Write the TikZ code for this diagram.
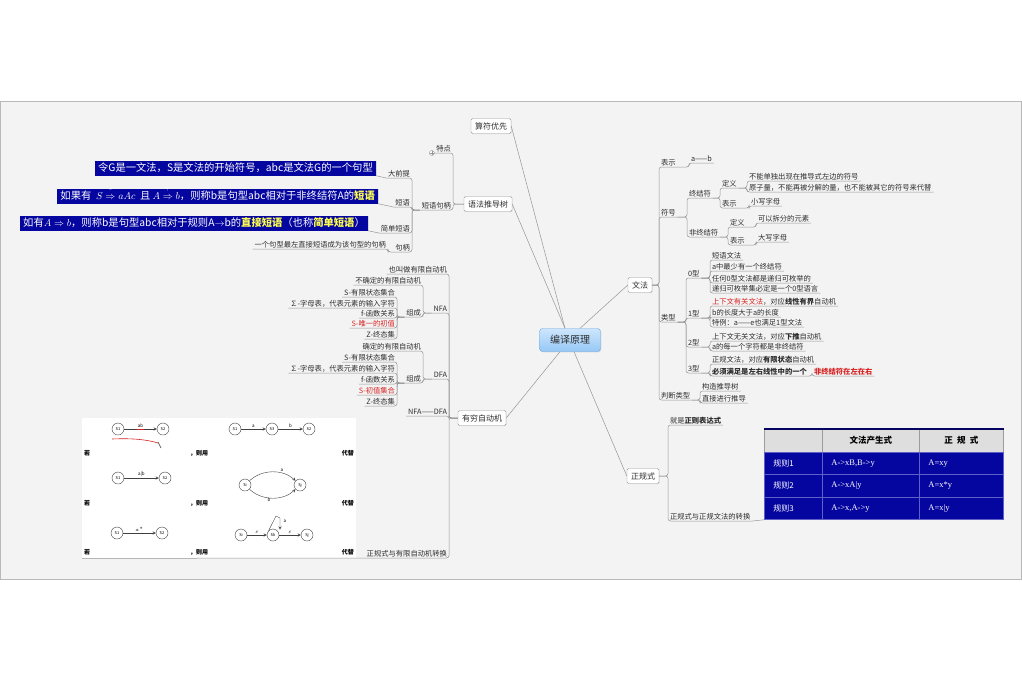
\documentclass[tikz,border=0pt]{standalone}
\usepackage{fontspec}
\setmainfont{Noto Sans CJK SC}
\newfontfamily\lserif{Liberation Serif}
\usepackage{xcolor}
\usepackage{tikz}
\usetikzlibrary{positioning,shapes,shadows,arrows,calc,matrix,backgrounds}

\definecolor{panelbg}{RGB}{243,243,243}
\definecolor{panelline}{RGB}{185,185,185}
\definecolor{linegray}{RGB}{150,150,150}
\definecolor{boxline}{RGB}{155,155,155}
\definecolor{txtdark}{RGB}{45,45,45}
\definecolor{deepblue}{RGB}{5,5,160}
\definecolor{hiyellow}{RGB}{255,255,80}
\definecolor{hired}{RGB}{215,35,35}
\definecolor{rootlight}{RGB}{205,230,252}
\definecolor{rootdark}{RGB}{150,200,246}
\definecolor{rootline}{RGB}{110,165,225}
\definecolor{headgray}{RGB}{222,222,222}
\definecolor{cellline}{RGB}{95,95,200}

\newcommand\subfont{\fontsize{7.3}{8}\selectfont}
\newcommand\hiword[1]{\textbf{\textcolor{hiyellow}{#1}}}
\newcommand\derive[1]{\stackrel{\raisebox{2.5pt}{$\scriptscriptstyle #1$}}{\Rightarrow}}

% children hanging on a bracket, left or right of it
\newcommand\lkids[4]{%
  \foreach \nm/\yy/\txt in {#4}{%
    \node[lsub] (#2\nm) at (#3,\yy) {\txt};
    \draw[conn] (#1) -| (#2\nm.south east) -- (#2\nm.south west);
  }}
\newcommand\rkids[4]{%
  \foreach \nm/\yy/\txt in {#4}{%
    \node[rsub] (#2\nm) at (#3,\yy) {\txt};
    \draw[conn] (#1) -| (#2\nm.south west) -- (#2\nm.south east);
  }}

\tikzset{
  conn/.style={draw=linegray, line width=0.5pt, rounded corners=2.5pt},
  lsub/.style={anchor=south east, outer sep=0pt, inner xsep=2pt, inner ysep=1.2pt, font=\subfont, text=txtdark},
  rsub/.style={lsub, anchor=south west},
  topic/.style={draw=boxline, fill=white, rounded corners=1.5pt, inner xsep=4pt, inner ysep=2pt,
    minimum height=15pt, font=\fontsize{8}{9}\selectfont, text=txtdark,
    drop shadow={shadow xshift=0.7pt, shadow yshift=-0.7pt, opacity=0.2}},
  root/.style={draw=rootline, rounded corners=3pt, top color=rootlight, bottom color=rootdark,
    minimum width=61pt, minimum height=23pt, font=\fontsize{10}{12}\selectfont, text=txtdark,
    drop shadow={shadow xshift=0.8pt, shadow yshift=-0.8pt, opacity=0.2}},
  bluebox/.style={fill=deepblue, text=white, inner xsep=3pt, inner ysep=2.5pt, text height=8pt,
    text depth=2pt, font=\fontsize{10.3}{12}\selectfont,
    drop shadow={shadow xshift=0.8pt, shadow yshift=-0.8pt, opacity=0.25}},
  state/.style={circle, draw=black!75, fill=white, minimum size=12pt, inner sep=0pt, font=\fontsize{4}{4}\selectfont},
  tr/.style={->, >=stealth, draw=black!75, line width=0.4pt},
  tlab/.style={font=\fontsize{4.5}{5}\selectfont, inner sep=1pt},
  imgtxt/.style={font=\bfseries\fontsize{6}{7}\selectfont, inner sep=0pt},
  tablemat/.style={matrix of nodes, nodes in empty cells, inner sep=0pt,
    column sep=-\pgflinewidth, row sep=-\pgflinewidth,
    nodes={draw=cellline, fill=deepblue, text=white, minimum height=22.5pt, inner xsep=9pt,
      align=left, font=\fontsize{8}{9}\selectfont, anchor=center},
    column 1/.style={nodes={text width=40pt}},
    column 2/.style={nodes={text width=79pt, font=\lserif\fontsize{8.5}{9}\selectfont}},
    column 3/.style={nodes={text width=66pt, font=\lserif\fontsize{8.5}{9}\selectfont}},
    row 1/.style={nodes={fill=headgray, draw=headgray!70!black, text=black, align=center,
      font=\bfseries\fontsize{8.5}{9}\selectfont}}},
}

\begin{document}
\begin{tikzpicture}[x=1pt, y=-1pt]
\useasboundingbox (0,0) rectangle (1022,681);
\fill[white] (0,0) rectangle (1022,681);
\filldraw[fill=panelbg, draw=panelline, line width=0.8pt] (0.5,101) rectangle (1021.5,579);

% centre and main topics
\node[root] (root) at (570,340) {编译原理};
\node[topic] (sfyx) at (491,126) {算符优先};
\node[topic] (yfs) at (488,204) {语法推导树};
\node[topic] (yqz) at (482,418) {有穷自动机};
\node[topic] (wf) at (640,285) {文法};
\node[topic] (zgs) at (643,476) {正规式};
\draw[conn] ([xshift=-5pt]root.north) -- (sfyx.east);
\draw[conn] ([xshift=-5pt]root.north) -- (yfs.east);
\draw[conn] ([xshift=-10pt]root.south) -- (yqz.east);
\draw[conn] ([xshift=10pt]root.north) -- (wf.west);
\draw[conn] ([xshift=4pt]root.south) -- (zgs.west);

% 语法推导树
\lkids{yfs.west}{yf}{453}{a/153/特点, b/210/短语句柄}
\node[circle, draw=linegray, fill=white, inner sep=0pt, minimum size=5pt] (yfp) at ([xshift=-2.5pt]yfa.south west) {};
\draw[linegray, line width=0.4pt] ([xshift=-1.6pt]yfp.center) -- ([xshift=1.6pt]yfp.center)
  ([yshift=-1.6pt]yfp.center) -- ([yshift=1.6pt]yfp.center);
\lkids{yfb.south west}{dy}{412}{a/178/大前提, b/207/短语, c/233/简单短语, d/252/句柄}
\lkids{dyd.south west}{jb}{388}{a/249/一个句型最左直接短语成为该句型的句柄}
\node[bluebox, anchor=east] (bq1) at (376,168) {令G是一文法，S是文法的开始符号，abc是文法G的一个句型};
\node[bluebox, anchor=east] (bq2) at (378,196) {如果有\ \ $S\derive{*}aAc$ \ 且 $A\derive{+}b$，则称b是句型abc相对于非终结符A的\hiword{短语}};
\node[bluebox, anchor=east] (bq3) at (368,223) {如有$A\Rightarrow b$，则称b是句型abc相对于规则A$\rightarrow$b的\hiword{直接短语}（也称\hiword{简单短语}）};
\draw[conn] (dya.south west) -- (bq1.south east);
\draw[conn] (dyb.south west) -- (bq2.south east);
\draw[conn] (dyc.south west) -- (bq3.south east);

% 有穷自动机
\lkids{yqz.west}{zd}{449}{a/274/也叫做有限自动机, b/313/NFA, c/379/DFA, d/416/NFA——DFA, e/558/正规式与有限自动机转换}
\lkids{zdb.south west}{nf}{423}{a/285/不确定的有限自动机, b/317/组成}
\lkids{nfb.south west}{nz}{397}{a/297/S-有限状态集合, b/308/∑-字母表，代表元素的输入字符, c/318/f-函数关系,
  d/328/{\textcolor{hired}{S-唯一的初值}}, e/339/Z-终态集}
\lkids{zdc.south west}{df}{423}{a/351/确定的有限自动机, b/383/组成}
\lkids{dfb.south west}{dz}{397}{a/362/S-有限状态集合, b/373/∑-字母表，代表元素的输入字符, c/384/f-函数关系,
  d/395/{\textcolor{hired}{S-初值集合}}, e/406/Z-终态集}

% 正规式与有限自动机转换: picture
\node[fill=white, inner sep=0pt, minimum width=274pt, minimum height=140pt, anchor=north west] (autoimg) at (82,418) {};
\draw[conn] (zde.south west) -- (autoimg.south west);
\node[state] (ra1) at (118,429) {S1};
\node[state] (ra2) at (163,429) {S2};
\draw[tr] (ra1) -- node[tlab, above] (lab1) {ab} (ra2);
\draw[hired, line width=0.6pt] (lab1.south west) -- (lab1.south east);
\draw[hired, line width=0.6pt] (112,439) .. controls (135,438) and (148,440) .. (158,443);
\draw[black!60, line width=0.8pt] (158,442) -- (161,448);
\node[state] (rb1) at (235,429) {S1};
\node[state] (rb2) at (272,429) {S3};
\node[state] (rb3) at (309,429) {S2};
\draw[tr] (rb1) -- node[tlab, above] {a} (rb2);
\draw[tr] (rb2) -- node[tlab, above] {b} (rb3);
\node[state] (rc1) at (118,478) {S1};
\node[state] (rc2) at (165,478) {S2};
\draw[tr] (rc1) -- node[tlab, above] {a|b} (rc2);
\node[state] (rd1) at (245,485) {Si};
\node[state] (rd2) at (300,485) {Sj};
\draw[tr] (rd1) .. controls (262,469) and (283,469) .. (rd2);
\draw[tr] (rd1) .. controls (262,501) and (283,501) .. (rd2);
\node[tlab] (lab2) at (282,470) {a};
\node[tlab] (lab3) at (269,500) {b};
\node[state] (re1) at (117,533) {S1};
\node[state] (re2) at (162,533) {S2};
\draw[tr] (re1) -- node[tlab, above] {$a^{*}$} (re2);
\node[state] (rf1) at (241,535) {Si};
\node[state] (rf2) at (273,535) {Sk};
\node[state] (rf3) at (307,535) {Sj};
\draw[tr] (rf1) -- node[tlab, above] {$\varepsilon$} (rf2);
\draw[tr] (rf2) -- node[tlab, above] {$\varepsilon$} (rf3);
\draw[tr] (rf2.north west) -- (276,516) -- (280,518) -- (280,529.5);
\node[tlab] (lab4) at (285,521) {a};
\foreach \r/\yy in {1/453, 2/503, 3/552}{
  \node[imgtxt, anchor=west] (ruo\r) at (84,\yy) {若};
  \node[imgtxt] (zeyong\r) at (199,\yy) {，则用};
  \node[imgtxt, anchor=east] (daiti\r) at (354,\yy) {代替};
}

% 文法
\rkids{wf.east}{fh}{659}{a/167/表示, b/217/符号, c/322/类型, d/400/判断类型}
\rkids{fha.south east}{bs}{689}{a/163/a——b}
\rkids{fhb.south east}{fu}{687}{a/198/终结符, b/237/非终结符}
\rkids{fua.south east}{zj}{720}{a/188/定义, b/208/表示}
\rkids{zja.south east}{zy}{747}{a/181/不能单独出现在推导式左边的符号, b/192/原子量，不能再被分解的量，也不能被其它的符号来代替}
\rkids{zjb.south east}{zx}{749}{a/206/小写字母}
\rkids{fub.south east}{fz}{728}{a/227/定义, b/245/表示}
\rkids{fza.south east}{fy}{756}{a/223/可以拆分的元素}
\rkids{fzb.south east}{fx}{756}{a/242/大写字母}
\rkids{fhc.south east}{lx}{686}{a/278/0型, b/318/1型, c/347/2型, d/373/3型}
\rkids{lxa.south east}{la}{710}{a/260/短语文法, b/271/a中最少有一个终结符, c/283/任何0型文法都是递归可枚举的, d/293/递归可枚举集必定是一个0型语言}
\rkids{lxb.south east}{lb}{710}{a/306/{\textcolor{hired}{上下文有关文法}，对应\textbf{线性有界}自动机}, b/317/b的长度大于a的长度, c/327/特例：a——e也满足1型文法}
\rkids{lxc.south east}{lc}{710}{a/341/上下文无关文法，对应\textbf{下推}自动机, b/351/a的每一个字符都是非终结符}
\rkids{lxd.south east}{ld}{710}{a/364/正规文法，对应\textbf{有限状态}自动机, b/376/\textbf{必须满足是左右线性中的一个}}
\rkids{ldb.south east}{le}{812}{a/376/{\textcolor{hired}{\textbf{非终结符在左在右}}}}
\rkids{fhd.south east}{pd}{700}{a/391/构造推导树, b/403/直接进行推导}

% 正规式
\rkids{zgs.east}{zg}{668}{a/425/就是\textbf{正则表达式}, b/521/正规式与正规文法的转换}
\matrix[tablemat, anchor=north west] (tbl) at (764,429) {
        & 文法产生式 & 正\enspace 规\enspace 式 \\
  规则1 & A->xB,B->y & A=xy \\
  规则2 & A->xA|y    & A=x*y \\
  规则3 & A->x,A->y  & A=x|y \\
};
\draw[deepblue!60!black, line width=1.6pt] (tbl.north west) -- (tbl.north east);
\draw[conn] (zgb.south east) -- (tbl.south west);
\end{tikzpicture}
\end{document}
